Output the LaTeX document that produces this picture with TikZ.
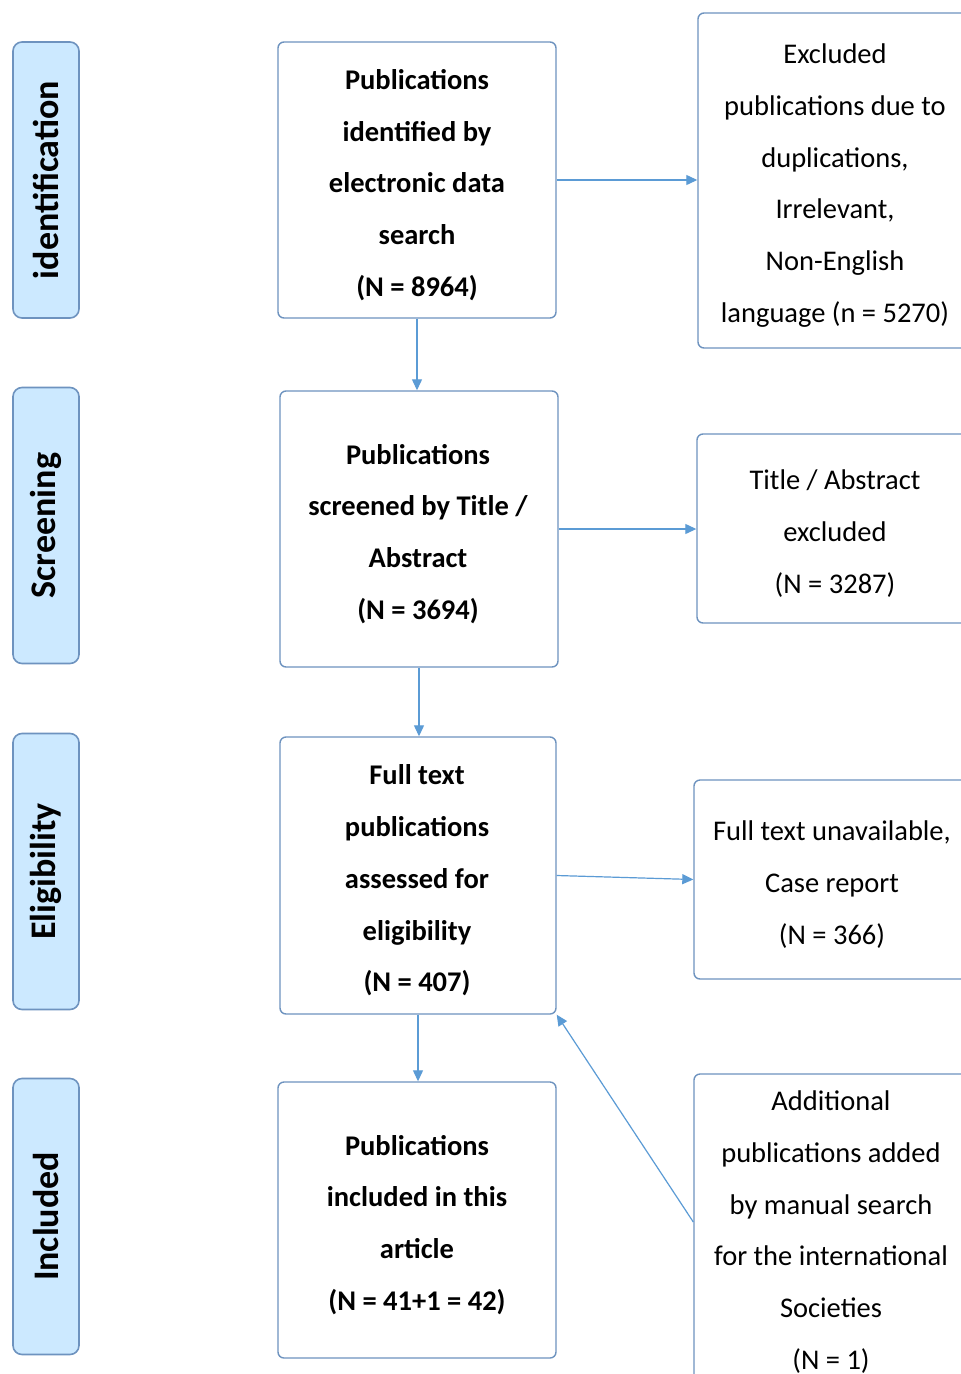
\documentclass[tikz,border=0pt]{standalone}
\usepackage{fontspec}
\setmainfont{Carlito}
\usetikzlibrary{arrows.meta}
\definecolor{bordc}{HTML}{6E93BF}
\definecolor{fillc}{HTML}{CCE9FF}
\definecolor{arrc}{HTML}{5B9BD5}
\tikzset{
  stage/.style={draw=bordc, line width=1.6pt, fill=fillc, rounded corners=9pt,
    minimum width=66pt, minimum height=276pt, inner sep=0pt},
  stagetext/.style={rotate=90, font=\fontsize{36}{40}\selectfont\bfseries},
  mainbox/.style={draw=bordc, line width=1.4pt, rounded corners=6pt,
    minimum width=278pt, minimum height=276pt, inner sep=0pt},
  sidebox/.style={draw=bordc, line width=1.4pt, rounded corners=6pt,
    minimum width=274pt, inner sep=0pt},
  maintext/.style={align=center, inner sep=0pt, font=\fontsize{28.5}{51.8}\selectfont\bfseries},
  sidetext/.style={align=center, inner sep=0pt, font=\fontsize{28.5}{51.8}\selectfont},
  flow/.style={draw=arrc, line width=1.2pt, -{Triangle[length=11pt,width=10pt]}}
}
\begin{document}
\begin{tikzpicture}[x=1pt,y=-1pt]
\path[use as bounding box, clip] (0,0) rectangle (961,1374);
\fill[white] (0,0) rectangle (961,1374);
% stage labels
\node[stage] (s1) at (46,180) {};
\node[stagetext] (s1t) at (s1) {identification};
\node[stage] (s2) at (46,525.5) {};
\node[stagetext] (s2t) at (s2) {Screening};
\node[stage] (s3) at (46,871.5) {};
\node[stagetext] (s3t) at (s3) {Eligibility};
\node[stage] (s4) at (46,1216.5) {};
\node[stagetext] (s4t) at (s4) {Included};
% main boxes
\node[mainbox] (m1) at (417,180) {};
\node[maintext] (m1t) at (417,185) {Publications\\identified by\\electronic data\\search\\(N = 8964)};
\node[mainbox] (m2) at (419,529) {};
\node[maintext] (m2t) at (418,534) {Publications\\screened by Title /\\Abstract\\(N = 3694)};
\node[mainbox, minimum width=276pt, minimum height=277pt] (m3) at (418,875.5) {};
\node[maintext] (m3t) at (417,880.5) {Full text\\publications\\assessed for\\eligibility\\(N = 407)};
\node[mainbox] (m4) at (417,1220) {};
\node[maintext] (m4t) at (417,1225) {Publications\\included in this\\article\\(N = 41+1 = 42)};
% side boxes
\node[sidebox, minimum height=335pt] (r1) at (835,180.5) {};
\node[sidetext] (r1t) at (835,185.5) {Excluded\\publications due to\\duplications,\\Irrelevant,\\Non-English\\language (n = 5270)};
\node[sidebox, minimum height=189pt] (r2) at (834,528.5) {};
\node[sidetext] (r2t) at (835,533.5) {Title / Abstract\\excluded\\(N = 3287)};
\node[sidebox, minimum height=199pt] (r3) at (831,879.5) {};
\node[sidetext] (r3t) at (832,884.5) {Full text unavailable,\\Case report\\(N = 366)};
\node[sidebox, minimum height=310pt] (r4) at (831,1229) {};
\node[sidetext] (r4t) at (831,1232) {Additional\\publications added\\by manual search\\for the international\\Societies\\(N = 1)};
% connectors
\draw[flow] (m1.east) -- (r1.west |- m1.east);
\draw[flow] (m1.south) -- (m2.north -| m1.south);
\draw[flow] (m2.east) -- (r2.west |- m2.east);
\draw[flow] (m2.south) -- (m3.north -| m2.south);
\draw[flow] (m3.east) -- ([yshift=-4pt]r3.west |- m3.east);
\draw[flow] (m3.south) -- (m4.north -| m3.south);
\draw[flow] ([yshift=7pt]r4.west) -- (m3.south east);
\end{tikzpicture}
\end{document}
